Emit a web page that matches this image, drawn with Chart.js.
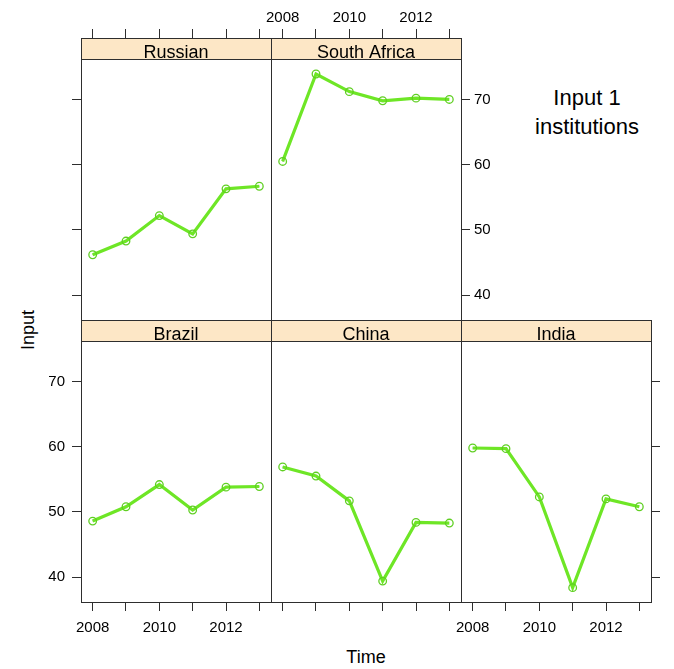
<!DOCTYPE html>
<html lang="en">
<head>
<meta charset="UTF-8">
<title>Input 1 institutions</title>
<script src="https://cdn.jsdelivr.net/npm/chart.js"></script>
<style>
  html, body { margin: 0; padding: 0; background: #fff; }
  body { width: 674px; height: 669px; position: relative; overflow: hidden;
         font-family: "Liberation Sans", Arial, Helvetica, sans-serif; color: #000; }
  canvas { position: absolute; }
  .txt { position: absolute; white-space: nowrap; }
</style>
</head>
<body>
<div class="txt" id="title" style="left:507px; top:83px; width:160px; text-align:center; font-size:22px; line-height:29px;">Input 1<br>institutions</div>
<div class="txt" style="left:28px; top:330px; font-size:18px; transform: translate(-50%, -50%) rotate(-90deg);">Input</div>
<div class="txt" style="left:366px; top:657px; font-size:18px; transform: translate(-50%, -50%);">Time</div>
<script>
// data
const years = [2008, 2009, 2010, 2011, 2012, 2013];
const labeledYears = [2008, 2010, 2012];
const yTicks = [40, 50, 60, 70];

const russian     = [46.2, 48.3, 52.2, 49.4, 56.3, 56.7];
const southAfrica = [60.5, 73.9, 71.2, 69.8, 70.2, 70.0];
const brazil      = [48.6, 50.8, 54.2, 50.3, 53.8, 53.9];
const china       = [56.9, 55.5, 51.7, 39.4, 48.4, 48.3];
const india       = [59.8, 59.7, 52.3, 38.4, 52.0, 50.8];

// layout
const COLS = [81, 271, 461];
const ROWS = [38, 320];
const PW = 190, PH = 282, STRIP_H = 21;
const LM = 60, RM = 60, TM = 36, BM = 44;
const xMin = 2007.65, xMax = 2013.35;
const yMin = 36.2, yTop = 76.2;
const yMax = yTop + STRIP_H * (yTop - yMin) / (PH - STRIP_H); // strip sits inside the panel box

const axisColor = '#2e2e2e';
const green = '#6ee626';
const stripFill = '#fde7c6';
const tickFont = { family: '"Liberation Sans", Arial, Helvetica, sans-serif', size: 15 };

const panels = [
  { label: 'Russian',      values: russian,     col: 0, row: 0, top: 'ticks',  bottom: 'none',   left: 'ticks',  right: 'none' },
  { label: 'South Africa', values: southAfrica, col: 1, row: 0, top: 'labels', bottom: 'none',   left: 'none',   right: 'labels' },
  { label: 'Brazil',       values: brazil,      col: 0, row: 1, top: 'none',   bottom: 'labels', left: 'labels', right: 'none' },
  { label: 'China',        values: china,       col: 1, row: 1, top: 'none',   bottom: 'ticks',  left: 'none',   right: 'none' },
  { label: 'India',        values: india,       col: 2, row: 1, top: 'none',   bottom: 'labels', left: 'none',   right: 'ticks' }
];

const stripPlugin = {
  id: 'strip',
  beforeDraw(chart, args, opts) {
    const { ctx, chartArea: a } = chart;
    ctx.save();
    ctx.fillStyle = stripFill;
    ctx.fillRect(a.left, a.top, a.right - a.left, STRIP_H);
    ctx.strokeStyle = axisColor;
    ctx.lineWidth = 1;
    ctx.beginPath();
    ctx.moveTo(a.left, Math.round(a.top + STRIP_H) + 0.5);
    ctx.lineTo(a.right, Math.round(a.top + STRIP_H) + 0.5);
    ctx.stroke();
    ctx.fillStyle = '#000';
    ctx.font = '18px "Liberation Sans", Arial, Helvetica, sans-serif';
    ctx.textAlign = 'center';
    ctx.textBaseline = 'alphabetic';
    ctx.fillText(opts.label, (a.left + a.right) / 2, a.top + STRIP_H - 1);
    ctx.restore();
  }
};

function xAxis(pos, mode) {
  return {
    type: 'linear', position: pos, min: xMin, max: xMax,
    afterBuildTicks: s => { s.ticks = years.map(v => ({ value: v })); },
    afterFit: s => { s.height = pos === 'top' ? TM : BM; },
    grid: { drawOnChartArea: false, drawTicks: mode !== 'none', tickLength: 9, color: axisColor, lineWidth: 1 },
    border: { display: true, color: axisColor, width: 1 },
    ticks: {
      display: mode === 'labels', autoSkip: false, maxRotation: 0, minRotation: 0,
      font: tickFont, color: '#000', padding: pos === 'top' ? 2 : 8,
      callback: v => labeledYears.includes(v) ? String(v) : ''
    }
  };
}

function yAxis(pos, mode) {
  return {
    type: 'linear', position: pos, min: yMin, max: yMax,
    afterBuildTicks: s => { s.ticks = yTicks.map(v => ({ value: v })); },
    afterFit: s => { s.width = pos === 'left' ? LM : RM; },
    grid: { drawOnChartArea: false, drawTicks: mode !== 'none', tickLength: 9, color: axisColor, lineWidth: 1 },
    border: { display: true, color: axisColor, width: 1 },
    ticks: {
      display: mode === 'labels', autoSkip: false,
      font: tickFont, color: '#000', padding: pos === 'left' ? 7 : 4,
      callback: v => String(v)
    }
  };
}

panels.forEach(p => {
  const canvas = document.createElement('canvas');
  canvas.width = PW + LM + RM;
  canvas.height = PH + TM + BM;
  canvas.style.left = (COLS[p.col] - LM) + 'px';
  canvas.style.top = (ROWS[p.row] - TM) + 'px';
  document.body.appendChild(canvas);

  const pts = years.map((yr, i) => ({ x: yr, y: p.values[i] }));

  new Chart(canvas.getContext('2d'), {
    type: 'line',
    data: {
      datasets: [
        {
          data: pts, borderColor: green, borderWidth: 3.2,
          pointRadius: 3.8, pointBorderWidth: 1.3, pointBorderColor: '#5fcf22',
          pointBackgroundColor: 'rgba(0,0,0,0)', tension: 0
        },
        {
          data: pts, borderColor: 'rgba(60,110,40,0.6)', borderWidth: 1.2,
          borderDash: [2, 3], pointRadius: 0, tension: 0
        }
      ]
    },
    options: {
      responsive: false,
      maintainAspectRatio: false,
      animation: false,
      layout: { padding: 0 },
      scales: {
        x: xAxis('bottom', p.bottom),
        xTop: xAxis('top', p.top),
        y: yAxis('left', p.left),
        yRight: yAxis('right', p.right)
      },
      plugins: {
        legend: { display: false },
        tooltip: { enabled: false },
        strip: { label: p.label }
      }
    },
    plugins: [stripPlugin]
  });
});
</script>
</body>
</html>
